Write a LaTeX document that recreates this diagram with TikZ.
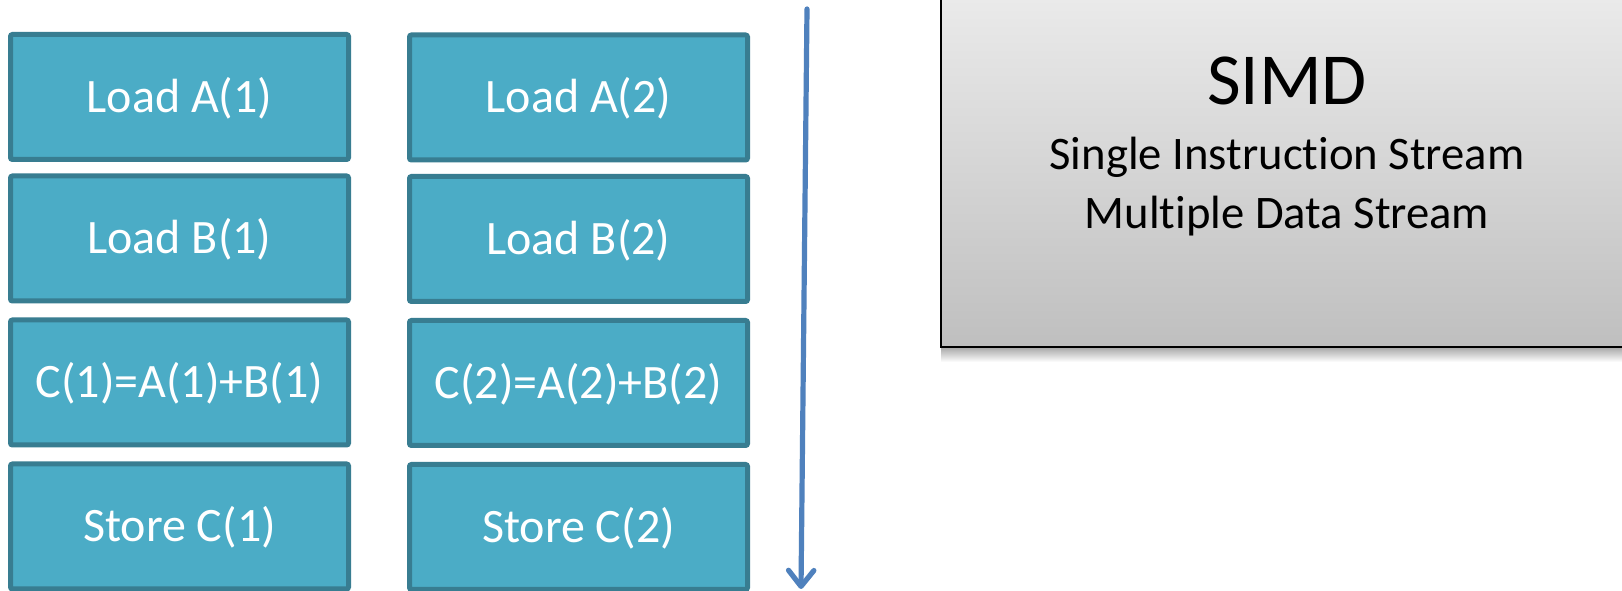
\documentclass[tikz,border=0pt]{standalone}
\usepackage{fontspec}
\setmainfont{Carlito}[Ligatures=NoCommon]
\usetikzlibrary{arrows.meta}
\definecolor{cellfill}{HTML}{4BACC6}
\definecolor{celledge}{RGB}{56,125,145}
\definecolor{flowblue}{HTML}{4F81BD}
\definecolor{paneltop}{HTML}{EBEBEB}
\definecolor{panelbot}{HTML}{BFBFBF}
\tikzset{
  cell/.style={draw=celledge, fill=cellfill, line width=3.75pt, rounded corners=1.5pt,
    minimum width=253.5pt, minimum height=93.75pt, inner sep=0pt,
    text=white, font=\fontsize{36}{40}\selectfont,
    text height=22.7pt, text depth=0pt},
  caption/.style={anchor=base, inner sep=0pt, text=black},
}
\begin{document}
\begin{tikzpicture}[x=0.75pt, y=-0.75pt]
  \clip (0,0) rectangle (1622,591);
  \fill[white] (0,0) rectangle (1622,591);

  % left column: instruction stream for element 1
  \node[cell] (a1) at (179.5,97)  {Load A(1)};
  \node[cell] (b1) at (179.5,238.5) {Load B(1)};
  \node[cell] (c1) at (179.5,382.5) {C(1)=A(1)+B(1)};
  \node[cell] (s1) at (179.5,526.5) {Store C(1)};

  % right column: instruction stream for element 2
  \node[cell] (a2) at (578.5,97.5)  {Load A(2)};
  \node[cell] (b2) at (578.5,239) {Load B(2)};
  \node[cell] (c2) at (578.5,383) {C(2)=A(2)+B(2)};
  \node[cell] (s2) at (578.5,527) {Store C(2)};

  % time axis
  \coordinate (t0) at (807,9);
  \coordinate (t1) at (801,589);
  \draw[flowblue, line width=3.9pt, line cap=round,
    -{Straight Barb[length=12pt, width=19pt, line cap=round, line join=round]}]
    (t0) -- (t1);

  % label panel with soft shadow
  \shade[top color=black!35, bottom color=white] (941,347) rectangle (1640,362);
  \shade[top color=paneltop, bottom color=panelbot] (941,-10) rectangle (1640,347);
  \draw[black, line width=1.5pt] (941,-10) -- (941,347) -- (1640,347);

  \node[caption, font=\fontsize{55}{60}\selectfont] (title) at (1287,105) {SIMD};
  \node[caption, font=\fontsize{35}{40}\selectfont] (line1) at (1287,170) {Single Instruction Stream};
  \node[caption, font=\fontsize{35}{40}\selectfont] (line2) at (1287,229) {Multiple Data Stream};
\end{tikzpicture}
\end{document}
